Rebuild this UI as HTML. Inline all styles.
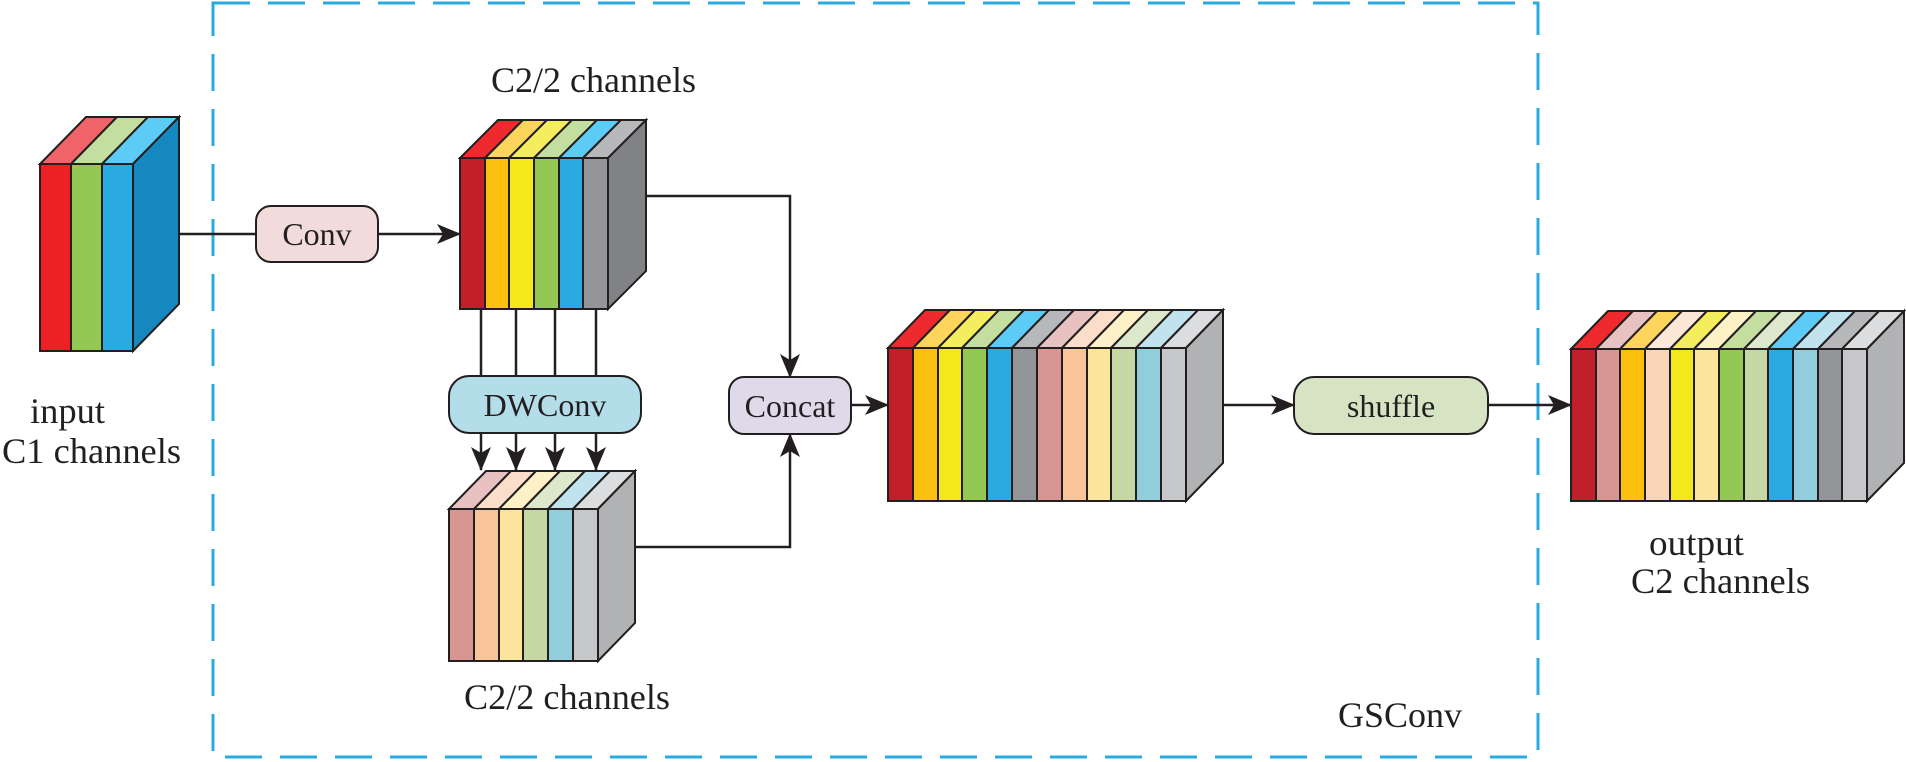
<!DOCTYPE html>
<html><head><meta charset="utf-8"><style>html,body{margin:0;padding:0;background:#fff}svg{display:block}</style></head>
<body>
<svg width="1906" height="762" viewBox="0 0 1906 762" xmlns="http://www.w3.org/2000/svg" font-family="'Liberation Serif', serif" fill="#231f20">
<defs>
<marker id="ah" viewBox="0 0 24 20" refX="23" refY="10" markerWidth="24" markerHeight="20" markerUnits="userSpaceOnUse" orient="auto">
<path d="M0,0 L24,10 L0,20 L6,10 Z" fill="#231f20"/>
</marker>
</defs>
<rect x="213" y="3" width="1325" height="754" fill="none" stroke="#29abe2" stroke-width="3" stroke-dasharray="37 18"/>

<g stroke="#231f20" stroke-width="2.5" fill="none">
<line x1="179" y1="234" x2="256" y2="234"/>
<line x1="378" y1="234" x2="460" y2="234" marker-end="url(#ah)"/>
<line x1="481" y1="309" x2="481" y2="376"/>
<line x1="516" y1="309" x2="516" y2="376"/>
<line x1="555" y1="309" x2="555" y2="376"/>
<line x1="596" y1="309" x2="596" y2="376"/>
<line x1="481" y1="433" x2="481" y2="470" marker-end="url(#ah)"/>
<line x1="516" y1="433" x2="516" y2="470" marker-end="url(#ah)"/>
<line x1="555" y1="433" x2="555" y2="470" marker-end="url(#ah)"/>
<line x1="596" y1="433" x2="596" y2="470" marker-end="url(#ah)"/>
<polyline points="646,196 790,196 790,377" marker-end="url(#ah)"/>
<polyline points="635,547 790,547 790,434" marker-end="url(#ah)"/>
<line x1="851" y1="405" x2="888" y2="405" marker-end="url(#ah)"/>
<line x1="1223" y1="405" x2="1294" y2="405" marker-end="url(#ah)"/>
<line x1="1488" y1="405" x2="1571" y2="405" marker-end="url(#ah)"/>
</g>

<g stroke="#231f20" stroke-width="2">
<rect x="40" y="164" width="31" height="187" fill="#ed2024"/>
<rect x="71" y="164" width="31" height="187" fill="#92c853"/>
<rect x="102" y="164" width="31" height="187" fill="#29abe2"/>
<polygon points="40,164 86,117 117,117 71,164" fill="#f06368"/>
<polygon points="71,164 117,117 148,117 102,164" fill="#c4dea0"/>
<polygon points="102,164 148,117 179,117 133,164" fill="#5ccbf5"/>
<polygon points="133,164 179,117 179,304 133,351" fill="#1589bf"/>

<rect x="460" y="158" width="25" height="151" fill="#c1202a"/>
<rect x="485" y="158" width="24" height="151" fill="#fbbf10"/>
<rect x="509" y="158" width="25" height="151" fill="#f4e81c"/>
<rect x="534" y="158" width="25" height="151" fill="#92c853"/>
<rect x="559" y="158" width="24" height="151" fill="#29abe2"/>
<rect x="583" y="158" width="25" height="151" fill="#939598"/>
<polygon points="460,158 498,120 523,120 485,158" fill="#ee2a2f"/>
<polygon points="485,158 523,120 547,120 509,158" fill="#fdd45c"/>
<polygon points="509,158 547,120 572,120 534,158" fill="#f4ee5f"/>
<polygon points="534,158 572,120 597,120 559,158" fill="#c4dea0"/>
<polygon points="559,158 597,120 621,120 583,158" fill="#5ccbf5"/>
<polygon points="583,158 621,120 646,120 608,158" fill="#b7b8ba"/>
<polygon points="608,158 646,120 646,271 608,309" fill="#808285"/>

<rect x="449" y="509" width="25" height="152" fill="#d99591"/>
<rect x="474" y="509" width="25" height="152" fill="#f8c59b"/>
<rect x="499" y="509" width="24" height="152" fill="#fbe49b"/>
<rect x="523" y="509" width="25" height="152" fill="#c5d8a4"/>
<rect x="548" y="509" width="25" height="152" fill="#92cddc"/>
<rect x="573" y="509" width="25" height="152" fill="#c6c7c9"/>
<polygon points="449,509 486,471 511,471 474,509" fill="#e8c2c0"/>
<polygon points="474,509 511,471 536,471 499,509" fill="#fbdec9"/>
<polygon points="499,509 536,471 560,471 523,509" fill="#fef1c8"/>
<polygon points="523,509 560,471 585,471 548,509" fill="#dde7cb"/>
<polygon points="548,509 585,471 610,471 573,509" fill="#c0e3ee"/>
<polygon points="573,509 610,471 635,471 598,509" fill="#dcdddf"/>
<polygon points="598,509 635,471 635,623 598,661" fill="#b1b2b4"/>

<rect x="888" y="348" width="25" height="153" fill="#c1202a"/>
<rect x="913" y="348" width="25" height="153" fill="#fbbf10"/>
<rect x="938" y="348" width="24" height="153" fill="#f4e81c"/>
<rect x="962" y="348" width="25" height="153" fill="#92c853"/>
<rect x="987" y="348" width="25" height="153" fill="#29abe2"/>
<rect x="1012" y="348" width="25" height="153" fill="#939598"/>
<rect x="1037" y="348" width="25" height="153" fill="#d99591"/>
<rect x="1062" y="348" width="25" height="153" fill="#f8c59b"/>
<rect x="1087" y="348" width="24" height="153" fill="#fbe49b"/>
<rect x="1111" y="348" width="25" height="153" fill="#c5d8a4"/>
<rect x="1136" y="348" width="25" height="153" fill="#92cddc"/>
<rect x="1161" y="348" width="25" height="153" fill="#c6c7c9"/>
<polygon points="888,348 925,310 950,310 913,348" fill="#ee2a2f"/>
<polygon points="913,348 950,310 975,310 938,348" fill="#fdd45c"/>
<polygon points="938,348 975,310 999,310 962,348" fill="#f4ee5f"/>
<polygon points="962,348 999,310 1024,310 987,348" fill="#c4dea0"/>
<polygon points="987,348 1024,310 1049,310 1012,348" fill="#5ccbf5"/>
<polygon points="1012,348 1049,310 1074,310 1037,348" fill="#b7b8ba"/>
<polygon points="1037,348 1074,310 1099,310 1062,348" fill="#e8c2c0"/>
<polygon points="1062,348 1099,310 1124,310 1087,348" fill="#fbdec9"/>
<polygon points="1087,348 1124,310 1148,310 1111,348" fill="#fef1c8"/>
<polygon points="1111,348 1148,310 1173,310 1136,348" fill="#dde7cb"/>
<polygon points="1136,348 1173,310 1198,310 1161,348" fill="#c0e3ee"/>
<polygon points="1161,348 1198,310 1223,310 1186,348" fill="#dcdddf"/>
<polygon points="1186,348 1223,310 1223,463 1186,501" fill="#b1b2b4"/>

<rect x="1571" y="349" width="25" height="152" fill="#c1202a"/>
<rect x="1596" y="349" width="24" height="152" fill="#d99591"/>
<rect x="1620" y="349" width="25" height="152" fill="#fbbf10"/>
<rect x="1645" y="349" width="25" height="152" fill="#fbd5b7"/>
<rect x="1670" y="349" width="24" height="152" fill="#f4e81c"/>
<rect x="1694" y="349" width="25" height="152" fill="#fbe49b"/>
<rect x="1719" y="349" width="25" height="152" fill="#92c853"/>
<rect x="1744" y="349" width="24" height="152" fill="#c5d8a4"/>
<rect x="1768" y="349" width="25" height="152" fill="#29abe2"/>
<rect x="1793" y="349" width="25" height="152" fill="#92cddc"/>
<rect x="1818" y="349" width="24" height="152" fill="#939598"/>
<rect x="1842" y="349" width="25" height="152" fill="#c6c7c9"/>
<polygon points="1571,349 1608,311 1633,311 1596,349" fill="#ee2a2f"/>
<polygon points="1596,349 1633,311 1657,311 1620,349" fill="#e8c2c0"/>
<polygon points="1620,349 1657,311 1682,311 1645,349" fill="#fdd45c"/>
<polygon points="1645,349 1682,311 1707,311 1670,349" fill="#fde8d8"/>
<polygon points="1670,349 1707,311 1731,311 1694,349" fill="#f4ee5f"/>
<polygon points="1694,349 1731,311 1756,311 1719,349" fill="#fef1c8"/>
<polygon points="1719,349 1756,311 1781,311 1744,349" fill="#c4dea0"/>
<polygon points="1744,349 1781,311 1805,311 1768,349" fill="#dde7cb"/>
<polygon points="1768,349 1805,311 1830,311 1793,349" fill="#5ccbf5"/>
<polygon points="1793,349 1830,311 1855,311 1818,349" fill="#c0e3ee"/>
<polygon points="1818,349 1855,311 1879,311 1842,349" fill="#b7b8ba"/>
<polygon points="1842,349 1879,311 1904,311 1867,349" fill="#dcdddf"/>
<polygon points="1867,349 1904,311 1904,463 1867,501" fill="#b1b2b4"/>

<rect x="256" y="206" width="122" height="56" rx="15" fill="#f2dcdb"/>
<rect x="449" y="376" width="192" height="57" rx="20" fill="#b3dde9"/>
<rect x="729" y="377" width="122" height="57" rx="15" fill="#dedaea"/>
<rect x="1294" y="377" width="194" height="57" rx="20" fill="#d7e4c4"/>
</g>

<g font-size="32" text-anchor="middle">
<text x="317" y="245">Conv</text>
<text x="545" y="416">DWConv</text>
<text x="790" y="417">Concat</text>
<text x="1391" y="417">shuffle</text>
</g>
<g font-size="36">
<text x="491" y="92" textLength="205" lengthAdjust="spacingAndGlyphs">C2/2 channels</text>
<text x="464" y="709" textLength="206" lengthAdjust="spacingAndGlyphs">C2/2 channels</text>
<text x="30" y="423" textLength="75" lengthAdjust="spacingAndGlyphs">input</text>
<text x="2" y="463" textLength="179" lengthAdjust="spacingAndGlyphs">C1 channels</text>
<text x="1649" y="555" textLength="95" lengthAdjust="spacingAndGlyphs">output</text>
<text x="1631" y="593" textLength="179" lengthAdjust="spacingAndGlyphs">C2 channels</text>
<text x="1338" y="727" textLength="124" lengthAdjust="spacingAndGlyphs">GSConv</text>
</g>
</svg>
</body></html>
